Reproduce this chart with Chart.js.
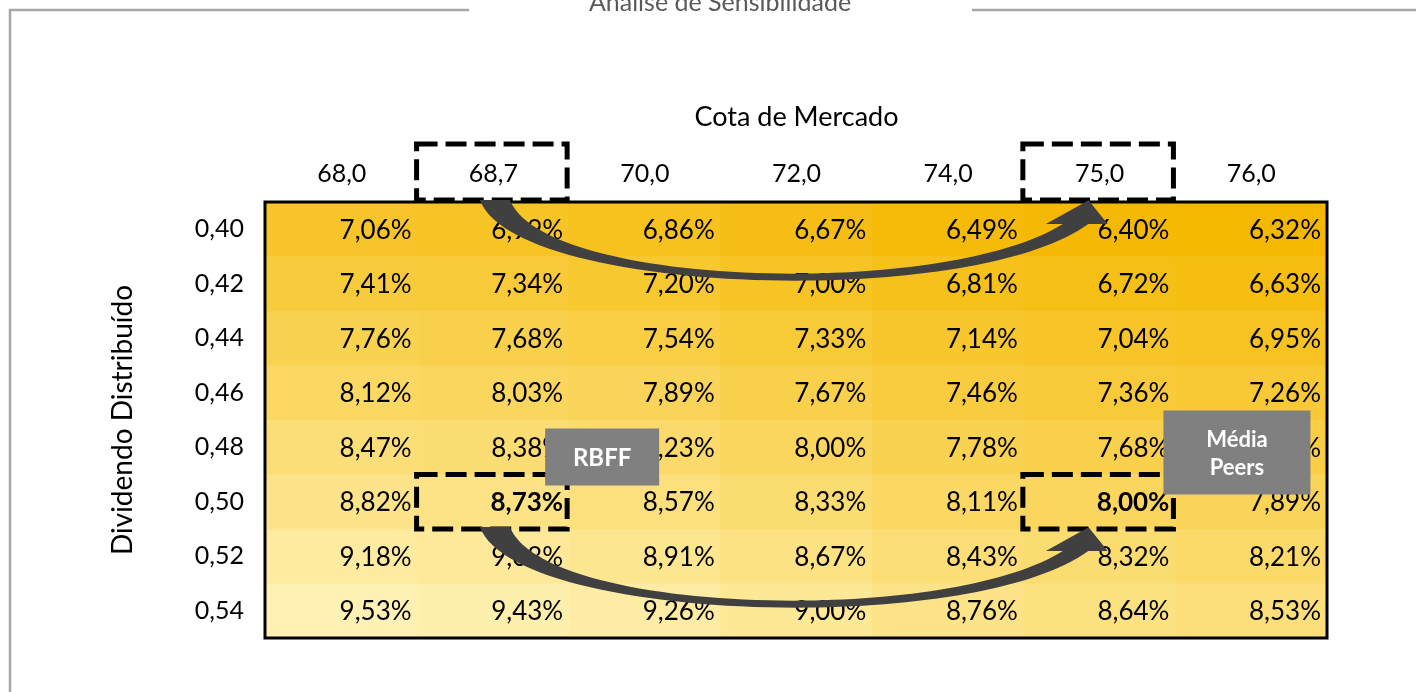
<!DOCTYPE html>
<html><head><meta charset="utf-8">
<script src="https://cdn.jsdelivr.net/npm/chart.js@4.4.1/dist/chart.umd.min.js"></script>
<style>html,body{margin:0;padding:0;background:#fff;overflow:hidden}#wrap{position:relative;width:1416px;height:692px}</style>
</head><body><div id="wrap"><canvas id="c"></canvas></div>
<script>
// ---- data ----
const tituloGrafico = 'Análise de Sensibilidade';
const tituloX = 'Cota de Mercado';
const tituloY = 'Dividendo Distribuído';
const cotas = ['68,0', '68,7', '70,0', '72,0', '74,0', '75,0', '76,0'];
const dividendos = ['0,40', '0,42', '0,44', '0,46', '0,48', '0,50', '0,52', '0,54'];
const dy040 = [7.06, 6.99, 6.86, 6.67, 6.49, 6.40, 6.32];
const dy042 = [7.41, 7.34, 7.20, 7.00, 6.81, 6.72, 6.63];
const dy044 = [7.76, 7.68, 7.54, 7.33, 7.14, 7.04, 6.95];
const dy046 = [8.12, 8.03, 7.89, 7.67, 7.46, 7.36, 7.26];
const dy048 = [8.47, 8.38, 8.23, 8.00, 7.78, 7.68, 7.58];
const dy050 = [8.82, 8.73, 8.57, 8.33, 8.11, 8.00, 7.89];
const dy052 = [9.18, 9.08, 8.91, 8.67, 8.43, 8.32, 8.21];
const dy054 = [9.53, 9.43, 9.26, 9.00, 8.76, 8.64, 8.53];
const taxas = [dy040, dy042, dy044, dy046, dy048, dy050, dy052, dy054];
const destaqueNomes = [['RBFF'], ['Média', 'Peers']];
const destaqueCotas = ['68,7', '75,0'];
const destaqueDividendos = ['0,50', '0,50'];

// ---- styles ----
const FONT = 'Lato, "Open Sans", sans-serif';
Chart.defaults.font.family = FONT;
Chart.defaults.color = '#000';
const todos = taxas.flat();
const vMin = Math.min(...todos), vMax = Math.max(...todos);
const corBaixa = [245, 184, 0], corAlta = [255, 241, 179];
function cor(v) {
  const t = (v - vMin) / (vMax - vMin);
  const c = corBaixa.map((a, k) => Math.round(a + (corAlta[k] - a) * t));
  return `rgb(${c[0]},${c[1]},${c[2]})`;
}
function fmt(v) { return v.toFixed(2).replace('.', ',') + '%'; }
// label box geometry relative to the highlighted cell (style, not data)
const caixaEstilo = [
  {dx0: -24, dx1: 90, dy0: -46, dy1: 11},
  {dx0: -12, dx1: 135, dy0: -64, dy1: 20}
];

const datasets = dividendos.map((d, i) => ({
  label: d,
  data: cotas.map(() => [i, i + 1]),
  backgroundColor: cotas.map((c, j) => cor(taxas[i][j])),
  borderWidth: 0,
  grouped: false,
  barPercentage: 1,
  categoryPercentage: 1,
  yAxisID: 'y'
}));

function arrowPath(ctx, x0, yTop, cw, rh) {
  const P = (u, v) => [x0 + u * cw, yTop + v * rh];
  ctx.beginPath();
  let p = P(-0.089, -0.037); ctx.moveTo(p[0], p[1]);
  let c1 = P(0.142, 1.706), c2 = P(3.143, 1.982), e = P(3.925, 0.404);
  ctx.bezierCurveTo(c1[0], c1[1], c2[0], c2[1], e[0], e[1]);
  p = P(4.053, 0.404); ctx.lineTo(p[0], p[1]);
  p = P(3.927, -0.030); ctx.lineTo(p[0], p[1]);
  p = P(3.645, 0.404); ctx.lineTo(p[0], p[1]);
  p = P(3.757, 0.404); ctx.lineTo(p[0], p[1]);
  c1 = P(2.978, 1.77); c2 = P(0.340, 1.58); e = P(0.109, -0.037);
  ctx.bezierCurveTo(c1[0], c1[1], c2[0], c2[1], e[0], e[1]);
  ctx.closePath();
}

const gradePlugin = {
  id: 'grade',
  beforeDraw(chart) {
    const ctx = chart.ctx;
    ctx.save();
    ctx.strokeStyle = '#a6a6a6';
    ctx.lineWidth = 2.5;
    ctx.beginPath();
    ctx.moveTo(10, 692); ctx.lineTo(10, 10); ctx.lineTo(469, 10);
    ctx.moveTo(972, 10); ctx.lineTo(1416, 10);
    ctx.stroke();
    ctx.fillStyle = '#595959';
    ctx.font = '25px ' + FONT;
    ctx.textAlign = 'center';
    ctx.textBaseline = 'alphabetic';
    ctx.fillText(tituloGrafico, 720, 11);
    ctx.restore();
  },
  afterDatasetsDraw(chart) {
    const ctx = chart.ctx;
    const xs = chart.scales.x, ys = chart.scales.y;
    const area = chart.chartArea;
    const cw = xs.getPixelForValue(1) - xs.getPixelForValue(0);
    const rh = ys.getPixelForValue(1) - ys.getPixelForValue(0);
    const bold = new Set();
    destaqueCotas.forEach((c, k) => bold.add(dividendos.indexOf(destaqueDividendos[k]) + '_' + cotas.indexOf(c)));
    ctx.save();
    ctx.fillStyle = '#000';
    ctx.textAlign = 'right';
    ctx.textBaseline = 'middle';
    chart.data.datasets.forEach((ds, i) => {
      chart.getDatasetMeta(i).data.forEach((bar, j) => {
        const {x, y, base, width} = bar.getProps(['x', 'y', 'base', 'width'], true);
        ctx.font = (bold.has(i + '_' + j) ? 'bold ' : '') + '26px ' + FONT;
        ctx.fillText(fmt(taxas[i][j]), x + width / 2 - 6, (y + base) / 2 + 1);
      });
    });
    // outer border
    ctx.strokeStyle = '#000';
    ctx.lineWidth = 3;
    ctx.strokeRect(area.left - 1, area.top, area.right - area.left + 1, area.bottom - area.top);
    // dashed boxes
    ctx.lineWidth = 5;
    ctx.setLineDash([21, 8]);
    const cells = destaqueCotas.map((c, k) => {
      const j = cotas.indexOf(c), i = dividendos.indexOf(destaqueDividendos[k]);
      const xc = xs.getPixelForValue(j);
      const yt = ys.getPixelForValue(i), yb = ys.getPixelForValue(i + 1);
      return {xc, left: xc - cw / 2, right: xc + cw / 2, yt, yb};
    });
    cells.forEach(c => {
      ctx.strokeRect(c.left - 1, area.top - 58, cw - 1, 56);
      ctx.strokeRect(c.left - 1, c.yt, cw - 1, c.yb - c.yt);
    });
    ctx.setLineDash([]);
    // arrows
    ctx.fillStyle = '#404040';
    for (let k = 0; k + 1 < cells.length; k++) {
      const a = cells[k];
      const scaleU = (cells[k + 1].xc - a.xc) / 4;
      arrowPath(ctx, a.xc, area.top, scaleU, rh);
      ctx.fill();
      arrowPath(ctx, a.xc, a.yb, scaleU, rh);
      ctx.fill();
    }
    // label boxes
    cells.forEach((c, k) => {
      const s = caixaEstilo[k];
      const x0 = c.right + s.dx0, x1 = c.right + s.dx1;
      const y0 = c.yt + s.dy0, y1 = c.yt + s.dy1;
      ctx.fillStyle = '#808080';
      ctx.fillRect(x0, y0, x1 - x0, y1 - y0);
      ctx.fillStyle = '#fff';
      ctx.textAlign = 'center';
      ctx.textBaseline = 'middle';
      const nome = destaqueNomes[k];
      const fs = nome.length > 1 ? 22 : 24;
      ctx.font = 'bold ' + fs + 'px ' + FONT;
      const lh = 28;
      const cy = (y0 + y1) / 2;
      nome.forEach((t, n) => {
        ctx.fillText(t, (x0 + x1) / 2, cy + (n - (nome.length - 1) / 2) * lh + 1);
      });
    });
    ctx.restore();
  }
};

new Chart(document.getElementById('c'), {
  type: 'bar',
  data: {labels: cotas, datasets},
  options: {
    responsive: true,
    maintainAspectRatio: false,
    animation: false,
    layout: {padding: {left: 106, top: 101, right: 89, bottom: 54}},
    plugins: {legend: {display: false}, tooltip: {enabled: false}, title: {display: false}},
    scales: {
      x: {
        type: 'category',
        position: 'top',
        offset: true,
        grid: {display: false, drawTicks: false},
        border: {display: false},
        ticks: {font: {size: 25}, padding: 13, maxRotation: 0},
        title: {display: true, text: tituloX, font: {size: 27}, padding: {top: 0, bottom: 0}},
        afterFit(s) { s.height = 101; }
      },
      y: {
        type: 'linear', min: 0, max: 8, reverse: true, display: false
      },
      yl: {
        type: 'category',
        labels: dividendos,
        position: 'left',
        offset: true,
        display: true,
        grid: {display: false, drawTicks: false},
        border: {display: false},
        ticks: {font: {size: 25}, padding: 22},
        title: {display: true, text: tituloY, font: {size: 28}, padding: {top: 0, bottom: 0}},
        afterFit(s) { s.width = 160; }
      }
    }
  },
  plugins: [gradePlugin]
});
</script>
</body></html>
